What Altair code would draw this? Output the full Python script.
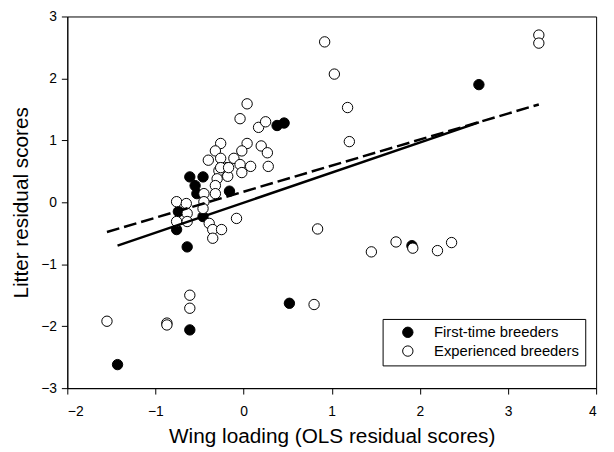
import altair as alt
import pandas as pd

# First-time breeders (filled)
first_x = [-1.43, -0.61, 0.52, 1.91, 2.67, -0.64, -0.76, -0.74, -0.46, -0.53,
           -0.55, -0.61, -0.46, -0.16, 0.38, 0.46]
first_y = [-2.62, -2.06, -1.63, -0.70, 1.90, -0.72, -0.44, -0.15, -0.23, 0.14,
           0.27, 0.41, 0.41, 0.18, 1.24, 1.28]

# Experienced breeders (open)
exp_x = [3.35, 3.35, 0.92, 1.03, 1.18, 1.20, 0.84, 1.45, 1.73, 1.92, 2.20, 2.36,
         0.80, -1.55, -0.87, -0.87, -0.61, -0.61,
         0.04, -0.04, 0.17, 0.25, -0.26, 0.04, 0.20, 0.27, -0.02, -0.32,
         -0.40, -0.26, -0.11, -0.04, 0.08, 0.28, -0.19, -0.28, -0.02, -0.18,
         -0.26, -0.30, -0.32, -0.32, -0.17, -0.45, -0.45, -0.46,
         -0.76, -0.65, -0.64, -0.76, -0.64, -0.39, -0.35, -0.25, -0.08, -0.35]
exp_y = [2.70, 2.57, 2.59, 2.07, 1.53, 0.98, -0.43, -0.80, -0.64, -0.74, -0.78, -0.65,
         -1.65, -1.92, -1.95, -1.98, -1.50, -1.71,
         1.59, 1.35, 1.21, 1.30, 0.95, 0.95, 0.91, 0.80, 0.83, 0.83,
         0.68, 0.71, 0.71, 0.61, 0.58, 0.58, 0.56, 0.51, 0.48, 0.42,
         0.56, 0.38, 0.27, 0.14, 0.56, 0.14, 0.01, -0.10,
         0.01, -0.02, -0.18, -0.31, -0.31, -0.34, -0.44, -0.44, -0.26, -0.58]

groups = ["First-time breeders", "Experienced breeders"]

# Regression line endpoints
solid_x = [-1.43, 2.67]
solid_y = [-0.70, 1.29]
dash_x = [-1.55, 3.35]
dash_y = [-0.48, 1.58]

x_ticks = [-2, -1, 0, 1, 2, 3, 4]
y_ticks = [-3, -2, -1, 0, 1, 2, 3]

pts = pd.concat([
    pd.DataFrame({"x": first_x, "y": first_y, "group": groups[0]}),
    pd.DataFrame({"x": exp_x, "y": exp_y, "group": groups[1]}),
], ignore_index=True)
pts["order"] = range(len(pts))

solid_df = pd.DataFrame({"x": solid_x, "y": solid_y})
dash_df = pd.DataFrame({"x": dash_x, "y": dash_y})

FONT = "Liberation Sans"

xscale = alt.Scale(domain=[-2, 4], nice=False, zero=False)
yscale = alt.Scale(domain=[-3, 3], nice=False, zero=False)

xaxis = alt.Axis(values=x_ticks, title="Wing loading (OLS residual scores)", format="d",
                 labelPadding=11, titlePadding=7)
yaxis = alt.Axis(values=y_ticks, title="Litter residual scores", format="d",
                 labelPadding=5, titlePadding=9)

points = alt.Chart(pts).mark_point(
    filled=True, shape="circle", size=110, stroke="black", strokeWidth=1, opacity=1
).encode(
    x=alt.X("x:Q", scale=xscale, axis=xaxis),
    y=alt.Y("y:Q", scale=yscale, axis=yaxis),
    fill=alt.Fill("group:N", scale=alt.Scale(domain=groups, range=["black", "white"]),
                  legend=alt.Legend(title=None, orient="none", legendX=319, legendY=306,
                                    symbolType="circle", symbolStrokeColor="black",
                                    symbolStrokeWidth=1, symbolSize=110,
                                    labelFontSize=15, labelFont=FONT, labelColor="black",
                                    strokeColor="black", fillColor="white", padding=6,
                                    symbolOffset=12, labelOffset=19, rowPadding=3)),
    order=alt.Order("order:Q"),
)

solid = alt.Chart(solid_df).mark_line(color="black", strokeWidth=2.5).encode(
    x=alt.X("x:Q", scale=xscale), y=alt.Y("y:Q", scale=yscale)
)
dashed = alt.Chart(dash_df).mark_line(color="black", strokeWidth=2.5, strokeDash=[13, 5]).encode(
    x=alt.X("x:Q", scale=xscale), y=alt.Y("y:Q", scale=yscale)
)

chart = alt.layer(points, solid, dashed).properties(
    width=535, height=376,
    autosize=alt.AutoSizeParams(type="none"),
    padding={"left": 60, "top": 6, "right": 10, "bottom": 60},
).configure_view(
    stroke="black", strokeWidth=1
).configure_axis(
    grid=False, domainColor="black", tickColor="black", labelColor="black",
    titleColor="black", labelFont=FONT, titleFont=FONT, labelFontSize=14,
    titleFontSize=21, titleFontWeight="normal", tickSize=6,
    domainWidth=1, tickWidth=1
)

chart.save("out.html", embed_options={"renderer": "svg", "actions": False})
